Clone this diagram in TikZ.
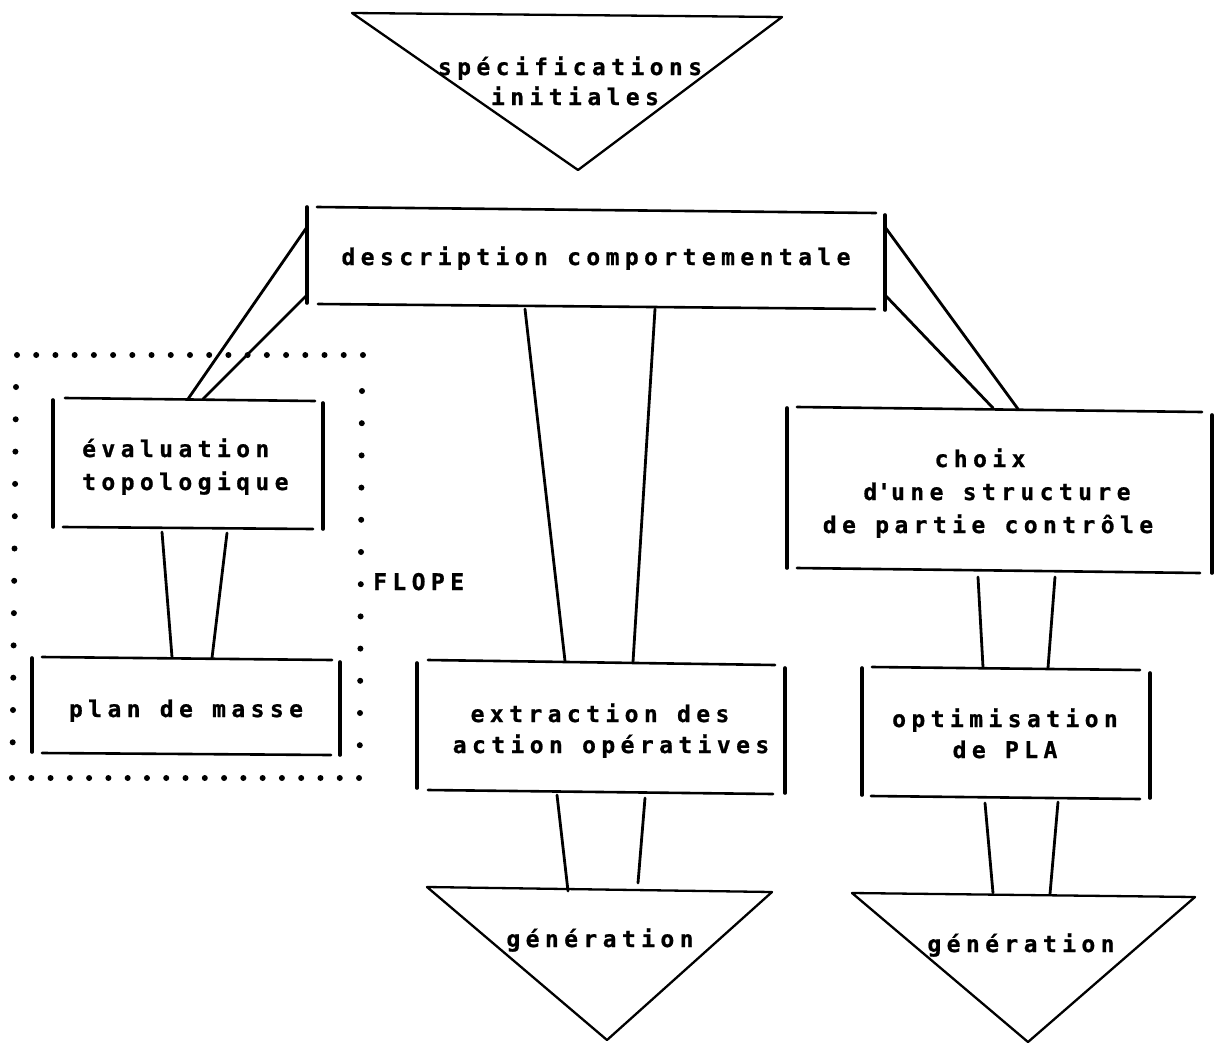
\documentclass[tikz,border=0pt]{standalone}
\usepackage{fontspec}
\newfontfamily\tw[LetterSpace=23.5,BoldFeatures={FakeBold=0.8}]{DejaVu Sans Mono}
\begin{document}
\begin{tikzpicture}[x=1pt,y=-1pt,
  rule/.style={line width=2.6pt, line cap=round},
  bar/.style={line width=3.6pt, line cap=round},
  link/.style={line width=2.8pt, line cap=round},
  tri/.style={line width=2.3pt, line join=round},
  txt/.style={anchor=base, inner sep=0pt, font=\tw\bfseries\fontsize{23}{32}\selectfont},
  txtl/.style={txt, anchor=base west},
  dotmark/.style={fill=black}]
\fill[white] (0,0) rectangle (1215,1044);
\useasboundingbox (0,0) rectangle (1215,1044);

% ---------- top triangle ----------
\draw[tri] (352,13) -- (782,17) -- (578,170) -- cycle;
\node[txt] (spec1) at (570,75) {spécifications};
\node[txt] (spec2) at (575,105) {initiales};

% ---------- description box ----------
\draw[rule] (317,207) -- (876,213);
\draw[rule] (318,304) -- (875,309);
\draw[bar] (307,207) -- (307,303);
\draw[bar] (885,215) -- (885,310);
\node[txt] (desc) at (596,265) {description comportementale};

% connector end points
\coordinate (dL1) at (307,227);
\coordinate (dL2) at (306,296);
\coordinate (dR1) at (885,227);
\coordinate (dR2) at (885,295);
\coordinate (dB1) at (525,309);
\coordinate (dB2) at (655,309);
\coordinate (eT1) at (188,399);
\coordinate (eT2) at (203,399);
\coordinate (cT1) at (1018,409);
\coordinate (cT2) at (993,408);
\coordinate (xT1) at (565,661);
\coordinate (xT2) at (633,662);

\draw[link] (dL1) -- (eT1);
\draw[link] (dL2) -- (eT2);
\draw[link] (dR1) -- (cT1);
\draw[link] (dR2) -- (cT2);
\draw[link] (dB1) -- (xT1);
\draw[link] (dB2) -- (xT2);

% ---------- evaluation box ----------
\draw[rule] (65,398) -- (315,401);
\draw[rule] (63,527) -- (313,529);
\draw[bar] (53,400) -- (53,527);
\draw[bar] (323,403) -- (323,529);
\node[txtl] (eval1) at (82,457) {évaluation};
\node[txtl] (eval2) at (82,490) {topologique};

\coordinate (eB1) at (162,532);
\coordinate (eB2) at (227,533);
\coordinate (pT1) at (172,657);
\coordinate (pT2) at (212,658);
\draw[link] (eB1) -- (pT1);
\draw[link] (eB2) -- (pT2);

% ---------- plan de masse ----------
\draw[rule] (42,657) -- (332,660);
\draw[rule] (42,753) -- (331,755);
\draw[bar] (32,658) -- (32,752);
\draw[bar] (340,662) -- (340,755);
\node[txt] (plan) at (186,717) {plan de masse};

% ---------- dotted FLOPE frame ----------
\foreach \i in {0,...,18} {
  \fill[dotmark] ({17+\i*19.22},355) circle (3);
  \fill[dotmark] ({12+\i*19.28},778) circle (3);
}
\foreach \i in {0,...,11} {
  \fill[dotmark] ({16-\i*0.3},{387+\i*32.3}) circle (3);
  \fill[dotmark] ({362-\i*0.2},{391+\i*32.2}) circle (3);
}
\node[txtl] (flope) at (373,590) {FLOPE};

% ---------- extraction box ----------
\draw[rule] (428,660) -- (775,665);
\draw[rule] (428,790) -- (773,794);
\draw[bar] (417,663) -- (417,788);
\draw[bar] (785,668) -- (785,793);
\node[txt] (ext1) at (600,722) {extraction des};
\node[txt] (ext2) at (611,753) {action opératives};

\coordinate (xB1) at (557,795);
\coordinate (xB2) at (645,798);
\coordinate (g1T1) at (568,891);
\coordinate (g1T2) at (638,883);
\draw[link] (xB1) -- (g1T1);
\draw[link] (xB2) -- (g1T2);

% ---------- generation 1 ----------
\draw[tri] (427,887) -- (772,892) -- (607,1040) -- cycle;
\node[txt] (gen1) at (600,947) {génération};

% ---------- choice box ----------
\draw[rule] (797,407) -- (1202,412);
\draw[rule] (797,568) -- (1200,573);
\draw[bar] (787,408) -- (787,568);
\draw[bar] (1212,415) -- (1212,573);
\node[txt] (cho1) at (980,467) {choix};
\node[txt] (cho2) at (997,500) {d\textquotesingle une structure};
\node[txt] (cho3) at (988,533) {de partie contrôle};

\coordinate (cB1) at (978,577);
\coordinate (cB2) at (1055,577);
\coordinate (oT1) at (983,667);
\coordinate (oT2) at (1048,668);
\draw[link] (cB1) -- (oT1);
\draw[link] (cB2) -- (oT2);

% ---------- optimisation box ----------
\draw[rule] (872,667) -- (1140,670);
\draw[rule] (871,796) -- (1140,799);
\draw[bar] (862,668) -- (862,795);
\draw[bar] (1150,673) -- (1150,798);
\node[txt] (opt1) at (1005,727) {optimisation};
\node[txt] (opt2) at (1005,758) {de PLA};

\coordinate (oB1) at (985,803);
\coordinate (oB2) at (1058,802);
\coordinate (g2T1) at (993,893);
\coordinate (g2T2) at (1050,894);
\draw[link] (oB1) -- (g2T1);
\draw[link] (oB2) -- (g2T2);

% ---------- generation 2 ----------
\draw[tri] (852,893) -- (1195,897) -- (1028,1042) -- cycle;
\node[txt] (gen2) at (1021,952) {génération};
\end{tikzpicture}
\end{document}
